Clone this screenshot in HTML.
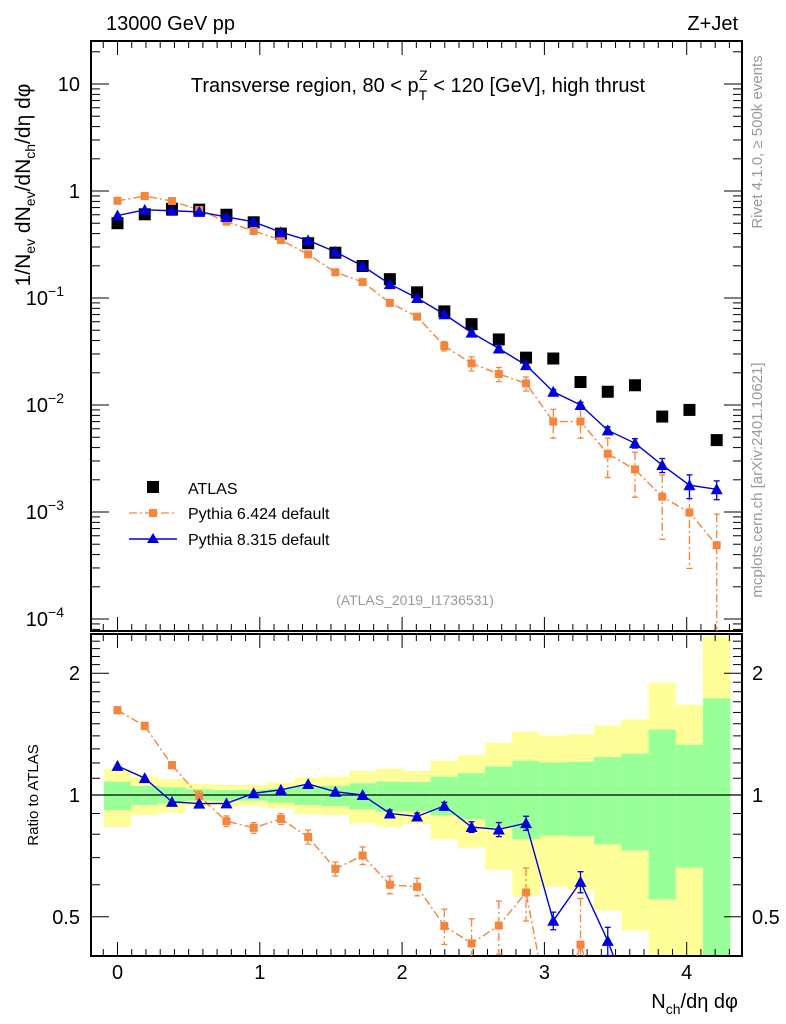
<!DOCTYPE html>
<html><head><meta charset="utf-8"><style>
html,body{margin:0;padding:0;background:#fff;width:786px;height:1024px;overflow:hidden}
svg{display:block;font-family:"Liberation Sans",sans-serif}
</style></head><body>
<svg id="c" width="786" height="1024" viewBox="0 0 786 1024" xmlns="http://www.w3.org/2000/svg">
<defs>
<clipPath id="cm"><rect x="91" y="41" width="651" height="590"/></clipPath>
<clipPath id="cr"><rect x="91" y="634" width="651" height="322"/></clipPath>
</defs>
<g id="bands" clip-path="url(#cr)"></g>
<g id="ax"></g>
<g id="marks"></g>
<text x="106" y="30" font-size="20">13000 GeV pp</text>
<text x="738" y="30" font-size="20" text-anchor="end">Z+Jet</text>
<text x="418" y="92" font-size="20" text-anchor="middle">Transverse region, 80 &lt; p<tspan font-size="14" dy="8">T</tspan><tspan font-size="14" dx="-8" dy="-20">Z</tspan><tspan dy="12"> &lt; 120 [GeV], high thrust</tspan></text>
<text transform="translate(30,185) rotate(-90)" font-size="21" text-anchor="middle">1/N<tspan font-size="14" dy="5">ev</tspan><tspan dy="-5"> dN</tspan><tspan font-size="14" dy="5">ev</tspan><tspan dy="-5">/dN</tspan><tspan font-size="14" dy="5">ch</tspan><tspan dy="-5">/dη dφ</tspan></text>
<text transform="translate(38,795) rotate(-90)" font-size="15" text-anchor="middle">Ratio to ATLAS</text>
<text x="738" y="1008" font-size="20" text-anchor="end">N<tspan font-size="14" dy="6">ch</tspan><tspan dy="-6">/dη dφ</tspan></text>
<text transform="translate(762,142) rotate(-90)" font-size="15" fill="#999" text-anchor="middle">Rivet 4.1.0, ≥ 500k events</text>
<text transform="translate(762,480) rotate(-90)" font-size="15" fill="#999" text-anchor="middle">mcplots.cern.ch [arXiv:2401.10621]</text>
<text x="415" y="605" font-size="14" fill="#999" text-anchor="middle">(ATLAS_2019_I1736531)</text>
<g>
<rect x="147" y="481" width="12" height="12" fill="#000"/>
<text x="188" y="494" font-size="16">ATLAS</text>
<line x1="129" y1="513" x2="177" y2="513" stroke="#f5843c" stroke-width="1.3" stroke-dasharray="8,3,2,3"/>
<rect x="149" y="509" width="8" height="8" fill="#f5843c"/>
<text x="188" y="519" font-size="16">Pythia 6.424 default</text>
<line x1="129" y1="539" x2="177" y2="539" stroke="#0000dd" stroke-width="1.5"/>
<path d="M153,533 L159,543 L147,543 Z" fill="#0000dd"/>
<text x="188" y="545" font-size="16">Pythia 8.315 default</text>
</g>
</svg>
<script>
const binWidth = 0.1914;
const atlas = [0.50,0.606,0.68,0.67,0.60,0.51,0.40,0.325,0.265,0.199,0.150,0.113,0.075,0.057,0.041,0.0277,0.0272,0.0164,0.0133,0.0153,0.0078,0.0090,0.0047];
const py6 = [0.81,0.898,0.806,0.665,0.517,0.423,0.349,0.256,0.174,0.141,0.090,0.067,0.0356,0.0245,0.0195,0.0159,0.0070,0.0070,0.0035,0.0025,0.00139,0.00099,0.00049];
const py6Err = [0.02,0.02,0.02,0.03,0.03,0.03,0.03,0.04,0.04,0.05,0.05,0.05,0.10,0.15,0.15,0.15,0.30,0.30,0.40,0.45,0.60,0.70,0.95];
const py8 = [0.59,0.667,0.654,0.638,0.572,0.515,0.412,0.346,0.270,0.199,0.135,0.100,0.0705,0.0475,0.0337,0.0236,0.0133,0.0100,0.0058,0.0044,0.00275,0.00178,0.00163];
const py8Err = [0.01,0.01,0.01,0.01,0.01,0.01,0.01,0.01,0.01,0.01,0.02,0.02,0.02,0.03,0.04,0.04,0.05,0.06,0.08,0.10,0.15,0.25,0.20];
const yelHi = [1.159,1.11,1.094,1.065,1.059,1.059,1.073,1.104,1.11,1.147,1.16,1.147,1.215,1.257,1.345,1.435,1.402,1.412,1.484,1.537,1.897,1.671,2.47];
const grnHi = [1.079,1.053,1.045,1.033,1.029,1.029,1.037,1.049,1.053,1.069,1.079,1.077,1.11,1.132,1.176,1.215,1.203,1.208,1.241,1.265,1.451,1.331,1.733];
const grnLo = [0.918,0.944,0.953,0.968,0.968,0.968,0.957,0.944,0.939,0.921,0.909,0.913,0.89,0.87,0.831,0.777,0.794,0.79,0.755,0.73,0.552,0.661,0.30];
const yelLo = [0.834,0.892,0.904,0.939,0.94,0.94,0.927,0.897,0.892,0.85,0.834,0.848,0.777,0.741,0.653,0.562,0.593,0.582,0.518,0.463,0.30,0.30,0.30];
const xTicks = [0,1,2,3,4];
const mainTicks = [1,0,-1,-2,-3,-4];
const ratioTicks = [0.5,1,2];

const NS="http://www.w3.org/2000/svg";
const X0=91,X1=742, MT=41, MB=631, RT=634, RB=956;
const sx=v=>117.5+v*142.3;
const lmin=-4.112, lmax=1.402;
const sy=v=>MB-(Math.log10(v)-lmin)/(lmax-lmin)*(MB-MT);
const rmin=Math.log2(0.4), rmax=Math.log2(2.5);
const sr=v=>RB-(Math.log2(v)-rmin)/(rmax-rmin)*(RB-RT);
const clampY=(y,top,bot)=>Math.min(Math.max(y,top),bot);
function mk(tag,at,parent){const e=document.createElementNS(NS,tag);for(const k in at)e.setAttribute(k,at[k]);(parent||document.getElementById('marks')).appendChild(e);return e;}
const bands=document.getElementById('bands'), ax=document.getElementById('ax'), marks=document.getElementById('marks');

for(let i=0;i<atlas.length;i++){
  const xa=sx(i*binWidth-binWidth/2), xb=sx(i*binWidth+binWidth/2);
  const y1=clampY(sr(yelHi[i]),RT,RB), y2=clampY(sr(yelLo[i]),RT,RB);
  const y=mk('rect',{x:xa,y:y1,width:xb-xa,height:y2-y1,fill:'#ffff99'},bands);
  
  
  const g1=clampY(sr(grnHi[i]),RT,RB), g2=clampY(sr(grnLo[i]),RT,RB);
  const g=mk('rect',{x:xa,y:g1,width:xb-xa,height:g2-g1,fill:'#99ff99'},bands);
  
  
}
const one=mk('line',{x1:X0,x2:X1,y1:sr(1),y2:sr(1),stroke:'#000','stroke-width':1.2},ax);



[[MT,MB,'main-plot-frame'],[RT,RB,'ratio-plot-frame']].forEach(f=>{
  const r=mk('rect',{x:X0,y:f[0],width:X1-X0,height:f[1]-f[0],fill:'none',stroke:'#000','stroke-width':2},ax);
  
  
});
for(let k=-1;k<=43;k++){
  const v=k/10, x=sx(v); if(x<X0||x>X1) continue;
  const L=(k%10===0)?14:7;
  [[MT,1],[MB,-1],[RT,1],[RB,-1]].forEach(p=>{mk('line',{x1:x,x2:x,y1:p[0],y2:p[0]+p[1]*L,stroke:'#000','stroke-width':1},ax);});
}
xTicks.forEach(v=>{
  const t=mk('text',{x:sx(v),y:979,'font-size':20,'text-anchor':'middle'},ax);
  t.textContent=v;
  
  
});
for(let d=-5;d<=1;d++){for(let m=1;m<=9;m++){
  const v=m*Math.pow(10,d), y=sy(v); if(y<MT||y>MB) continue;
  const L=m===1?18:9;
  mk('line',{x1:X0,x2:X0+L,y1:y,y2:y,stroke:'#000'},ax);
  mk('line',{x1:X1,x2:X1-L,y1:y,y2:y,stroke:'#000'},ax);
}}
mainTicks.forEach(e=>{
  const y=sy(Math.pow(10,e));
  const t=mk('text',{x:80,y:y+7,'font-size':20,'text-anchor':'end'},ax);
  
  
  if(e===1) t.textContent='10';
  else if(e===0) t.textContent='1';
  else { t.setAttribute('x',64); t.textContent='10'; const s=mk('tspan',{'font-size':14,dy:-9},t); s.textContent='−'+(-e); }
});
for(let m=4;m<=25;m++){
  const v=m/10, y=sr(v); if(y<RT||y>RB) continue;
  const L=(m===5||m===10||m===20)?18:9;
  mk('line',{x1:X0,x2:X0+L,y1:y,y2:y,stroke:'#000'},ax);
  mk('line',{x1:X1,x2:X1-L,y1:y,y2:y,stroke:'#000'},ax);
}
ratioTicks.forEach(v=>{
  [[80,'end'],[752,'start']].forEach(p=>{
    const t=mk('text',{x:p[0],y:sr(v)+7,'font-size':20,'text-anchor':p[1]},ax);
    t.textContent=v;
    
    
  });
});

function clipSeg(x1,y1,x2,y2,top,bot){
  let t0=0,t1=1; const dy=y2-y1;
  if(dy===0){ if(y1<top||y1>bot) return null; }
  else {
    let ta=(top-y1)/dy, tb=(bot-y1)/dy;
    if(ta>tb){const t=ta;ta=tb;tb=t;}
    t0=Math.max(t0,ta); t1=Math.min(t1,tb);
    if(t0>t1) return null;
  }
  return [x1+(x2-x1)*t0, y1+dy*t0, x1+(x2-x1)*t1, y1+dy*t1];
}
function series(vals,errs,color,dash,shape,ratio,name){
  const top=ratio?RT:MT, bot=ratio?RB:MB;
  const gM=mk('g',{'clip-path':ratio?'url(#cr)':'url(#cm)'},marks);
  
  
  const yy=(v)=>ratio? sr(v):sy(v);
  const P=[];
  vals.forEach((v0,i)=>{
    const v=ratio? v0/atlas[i]:v0;
    const e=errs? (ratio? errs[i]*v0/atlas[i]: errs[i]*v0):0;
    const x=sx(i*binWidth), y=yy(v);
    P.push([x,y]);
    if(e>0 && errs[i]>0.015 && y>=top && y<=bot){
      const lo=Math.max(v-e,v*0.001);
      const ya=clampY(yy(v+e),top,bot), yb=clampY(yy(lo),top,bot);
      mk('line',{x1:x,x2:x,y1:ya,y2:yb,stroke:color,'stroke-width':1.3,'stroke-dasharray':dash||'none'},gM);
      if(ya>top) mk('line',{x1:x-3,x2:x+3,y1:ya,y2:ya,stroke:color,'stroke-width':1.3},gM);
      if(yb<bot) mk('line',{x1:x-3,x2:x+3,y1:yb,y2:yb,stroke:color,'stroke-width':1.3},gM);
    }
  });
  if(color!=='#000'){
    let d='', last=null;
    for(let i=0;i<P.length-1;i++){
      const s=clipSeg(P[i][0],P[i][1],P[i+1][0],P[i+1][1],top,bot);
      if(!s){last=null;continue;}
      if(!last||Math.abs(last[0]-s[0])>0.01||Math.abs(last[1]-s[1])>0.01) d+=`M${s[0].toFixed(2)},${s[1].toFixed(2)} `;
      d+=`L${s[2].toFixed(2)},${s[3].toFixed(2)} `;
      last=[s[2],s[3]];
    }
    const ln=mk('path',{d:d,fill:'none',stroke:color,'stroke-width':1.4,'stroke-dasharray':dash||'none'},gM);
    
    
  }
  P.forEach((p,i)=>{
    const x=p[0], y=p[1];
    if(y<top-6||y>bot+6) return;
    let m;
    if(shape==='tri') m=mk('path',{d:`M${x},${y-6} L${x+6},${y+5} L${x-6},${y+5} Z`,fill:color},gM);
    else { const s=shape==='big'?12:8; m=mk('rect',{x:x-s/2,y:y-s/2,width:s,height:s,fill:color},gM); }
    
    
  });
}
series(atlas,null,'#000',null,'big',false,'atlas-data');
series(py6,py6Err,'#f5843c','8,3,2,3','sq',false,'pythia6-curve');
series(py8,py8Err,'#0000dd',null,'tri',false,'pythia8-curve');
series(py6,py6Err,'#f5843c','8,3,2,3','sq',true,'pythia6-ratio');
series(py8,py8Err,'#0000dd',null,'tri',true,'pythia8-ratio');
</script>
</body></html>
